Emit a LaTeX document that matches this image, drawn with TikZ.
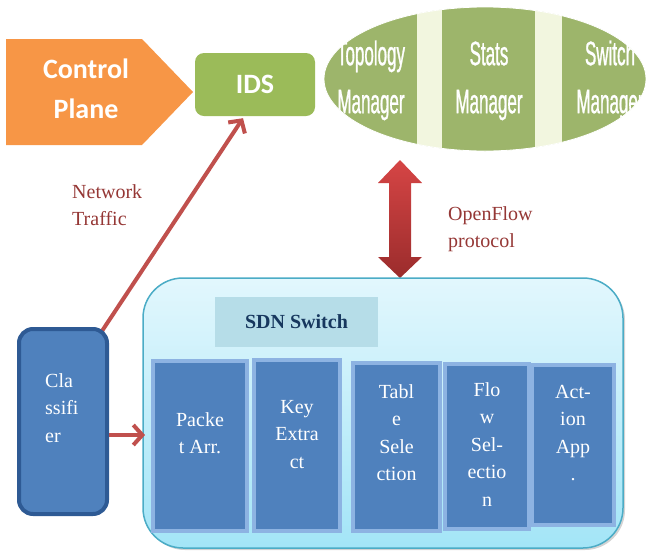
\documentclass[tikz,border=0pt]{standalone}
\usepackage{fontspec}
\setmainfont{Liberation Serif}
\newfontfamily\calib{Carlito}
\newfontfamily\condsans[FakeStretch=0.5,FakeBold=0.8]{Liberation Sans}
\usetikzlibrary{arrows.meta,shadows,calc,shapes.geometric}
\definecolor{cporange}{HTML}{F79646}
\definecolor{idsgreen}{HTML}{9BBB59}
\definecolor{ellgreen}{HTML}{9DB56B}
\definecolor{palegreen}{HTML}{F2F6DF}
\definecolor{arrred}{HTML}{C0504D}
\definecolor{txtred}{HTML}{953735}
\definecolor{dbtop}{HTML}{D64545}
\definecolor{dbbot}{HTML}{9B2C2C}
\definecolor{sdntop}{HTML}{E2F7FD}
\definecolor{sdnbot}{HTML}{A3E5F7}
\definecolor{sdnedge}{HTML}{4BACC6}
\definecolor{labblue}{HTML}{B6DDE8}
\definecolor{navy}{HTML}{17375E}
\definecolor{boxfill}{HTML}{4F81BD}
\definecolor{boxedge}{HTML}{8DB3E2}
\definecolor{clsedge}{HTML}{2E5A94}
\pgfdeclarelayer{background}
\pgfsetlayers{background,main}
\begin{document}
\begin{tikzpicture}[x=1pt,y=-1pt,
  cptext/.style={text=white, font=\calib\bfseries\fontsize{28}{40}\selectfont, align=center, inner sep=0pt, anchor=north},
  idsbox/.style={fill=idsgreen, rounded corners=9pt, minimum width=120pt, minimum height=63pt, inner sep=0pt, text=white, font=\calib\bfseries\fontsize{28}{34}\selectfont},
  mgr/.style={text=white, font=\condsans\fontsize{34}{48}\selectfont, align=center, inner sep=0pt, anchor=north},
  sdnbox/.style={draw=sdnedge, line width=1.5pt, rounded corners=40pt, top color=sdntop, bottom color=sdnbot, minimum width=480pt, minimum height=270pt, inner sep=0pt, drop shadow={shadow xshift=2pt, shadow yshift=-2pt, opacity=0.35}},
  sdnlabel/.style={fill=labblue, minimum width=163pt, minimum height=50pt, inner sep=0pt, text=navy, font=\rmfamily\bfseries\fontsize{20}{24}\selectfont},
  blockbox/.style={fill=boxfill, draw=boxedge, line width=4pt, inner sep=0pt},
  wtext/.style={text=white, font=\fontsize{20}{27.5}\selectfont, align=center, inner sep=0pt, anchor=north},
  clsbox/.style={fill=boxfill, draw=clsedge, line width=4pt, rounded corners=14pt, minimum width=88pt, minimum height=185pt, inner sep=0pt},
  redtext/.style={text=txtred, font=\fontsize{20}{27}\selectfont, align=left, inner sep=0pt, anchor=north west},
  redarrow/.style={draw=arrred, line width=4pt, -{Straight Barb[length=9pt,width=20pt]}}
]
\useasboundingbox (0,0) rectangle (646,550);

% Control plane
\fill[cporange] (6,39) -- (142,39) -- (193,92) -- (142,145) -- (6,145) -- cycle;
\node[cptext] (cp) at (86,50) {\strut Control\\Plane};

% IDS
\node[idsbox] (ids) at (255,84.5) {IDS};

% Controller ellipse
\node[ellipse, fill=ellgreen, minimum width=322pt, minimum height=144pt, inner sep=0pt] (ctl) at (485,79) {};
\begin{scope}
  \clip (485,79) ellipse [x radius=161, y radius=72];
  \fill[palegreen] (417,0) rectangle (442,160);
  \fill[palegreen] (535,0) rectangle (562,160);
  \node[mgr] (topo) at (371,31.4) {\strut Topology\\Manager};
  \node[mgr] (stats) at (489,31.4) {\strut Stats\\Manager};
  \node[mgr] (swm) at (610,31.4) {\strut Switch\\Manager};
\end{scope}
\draw[white, line width=0.8pt] (485,79) ellipse [x radius=161, y radius=72];

% OpenFlow double arrow
\shade[top color=dbtop, bottom color=dbbot] (400,160) -- (422,183) -- (411,183) -- (411,257) -- (422,257) -- (400,278) -- (378,257) -- (389,257) -- (389,183) -- (378,183) -- cycle;
\node[redtext] (of) at (448,201.8) {\strut OpenFlow\\protocol};

% SDN switch
\node[sdnbox] (sdn) at (383,413) {};
\node[sdnlabel] (sdnlab) at (296.5,322) {SDN Switch};

\node[blockbox, minimum width=94pt, minimum height=170pt] (b1) at (200,446) {};
\node[blockbox, minimum width=86pt, minimum height=171pt] (b2) at (297,445.5) {};
\node[blockbox, minimum width=87pt, minimum height=168pt] (b3) at (396.5,447) {};
\node[blockbox, minimum width=84pt, minimum height=165pt] (b4) at (487,446.5) {};
\node[blockbox, minimum width=82pt, minimum height=160pt] (b5) at (573,445) {};

\node[wtext] (t1) at (200,406.75) {\strut Packe\\t Arr.};
\node[wtext] (t2) at (297,393.75) {\strut Key\\Extra\\ct};
\node[wtext] (t3) at (396.5,378.75) {\strut Tabl\\e\\Sele\\ction};
\node[wtext] (t4) at (487,376.75) {\strut Flo\\w\\Sel-\\ectio\\n};
\node[wtext] (t5) at (573,378.75) {\strut Act-\\ion\\App\\.};

% Classifier
\node[clsbox] (cls) at (63,421.5) {};
\node[wtext, anchor=north west, align=left] (clst) at (45,367.75) {\strut Cla\\ssifi\\er};

% Network traffic arrow
\begin{pgfonlayer}{background}
\draw[redarrow] ($(cls.north east)+(-7,4)$) -- ($(ids.south)+(-12,2)$);
\end{pgfonlayer}
\node[redtext] (nt) at (72,179.1) {\strut Network\\Traffic};

% Classifier to switch arrow
\coordinate (carr) at ($(b1.west)+(-6,-11)$);
\draw[redarrow] ($(cls.east)+(0,13.5)$) -- (carr);
\end{tikzpicture}
\end{document}
